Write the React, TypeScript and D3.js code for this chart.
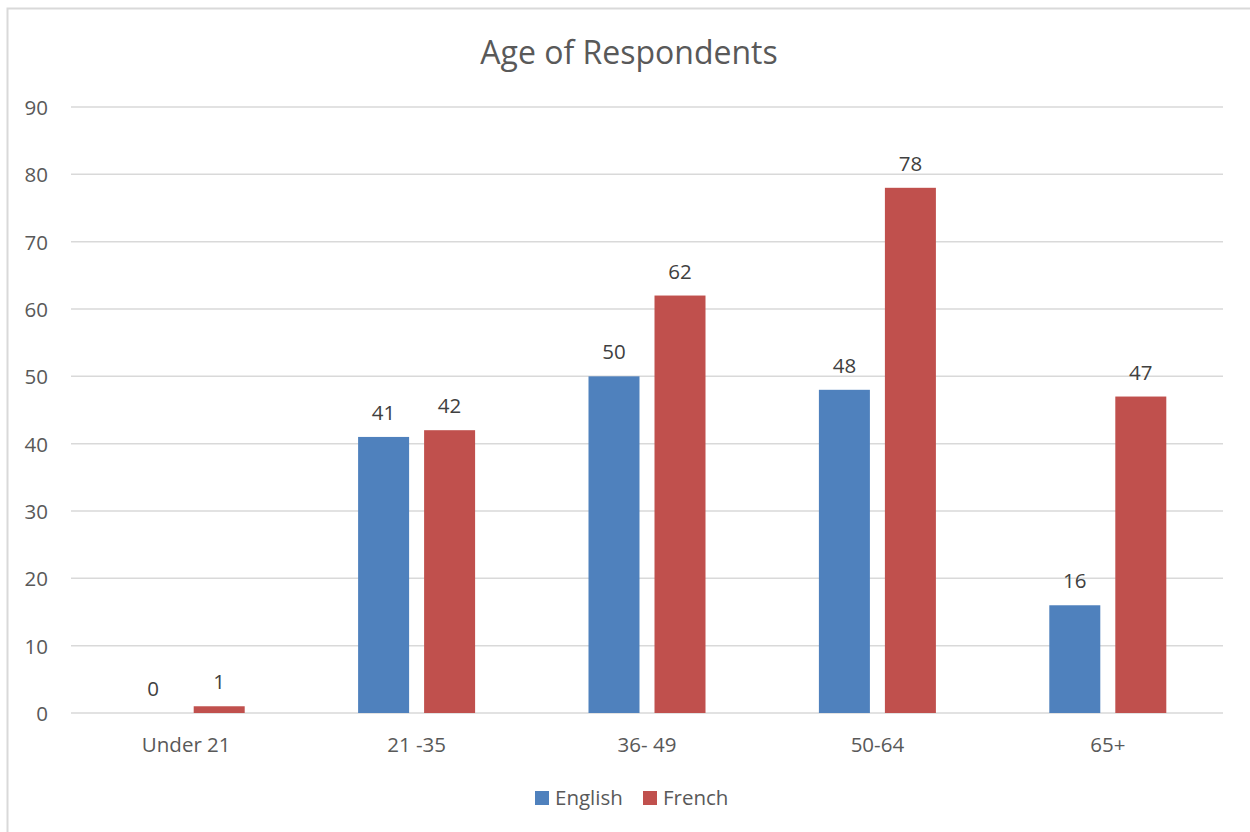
import React from "react";
import * as d3 from "d3";

const categories = ["Under 21", "21 -35", "36- 49", "50-64", "65+"];
const seriesNames = ["English", "French"];
const englishValues = [0, 41, 50, 48, 16];
const frenchValues = [1, 42, 62, 78, 47];
const yTicks = [0, 10, 20, 30, 40, 50, 60, 70, 80, 90];
const colors = ["#4F81BD", "#C0504D"];

export default function App() {
  const W = 1250, H = 832;
  const left = 71, right = 1223, top = 107, bottom = 713;
  const x0 = d3.scaleBand<string>().domain(categories).range([left, right]).padding(0);
  const bw = x0.bandwidth();
  const groupW = 117;
  const x1 = d3.scaleBand<string>().domain(seriesNames)
    .range([(bw - groupW) / 2, (bw + groupW) / 2]).paddingInner(15 / 66).paddingOuter(0);
  const y = d3.scaleLinear().domain([0, 90]).range([bottom, top]);
  const data = [englishValues, frenchValues];
  const font = "'Open Sans', 'Liberation Sans', sans-serif";
  const txt = "#595959";

  return (
    <svg width={W} height={H} style={{ position: "absolute", left: 0, top: 0, fontFamily: font }}>
      <rect x={0} y={0} width={W} height={H} fill="#fff" />
      <rect x={7.5} y={8.5} width={1300} height={900} fill="none" stroke="#d9d9d9" strokeWidth={2} />
      <text x={629} y={64} textAnchor="middle" fontSize={32} fill={txt}>Age of Respondents</text>
      {yTicks.map((t) => (
        <g key={t}>
          <line x1={left} x2={right} y1={y(t)} y2={y(t)} stroke="#d9d9d9" strokeWidth={1.5} />
          <text x={48} y={y(t) + 8} textAnchor="end" fontSize={20.5} fill={txt}>{t}</text>
        </g>
      ))}
      {categories.map((c, i) => (
        <g key={c} transform={`translate(${x0(c)},0)`}>
          {seriesNames.map((s, j) => {
            const v = data[j][i];
            const bx = x1(s)!;
            return (
              <g key={s}>
                <rect x={bx} y={y(v)} width={x1.bandwidth()} height={bottom - y(v)} fill={colors[j]} />
                <text x={bx + x1.bandwidth() / 2} y={y(v) - 17} textAnchor="middle" fontSize={20.5} fill="#404040">{v}</text>
              </g>
            );
          })}
          <text x={bw / 2} y={752} textAnchor="middle" fontSize={20.5} fill={txt}>{c}</text>
        </g>
      ))}
      {seriesNames.map((s, j) => {
        const lx = j === 0 ? 535 : 643;
        return (
          <g key={s}>
            <rect x={lx} y={791} width={14} height={14} fill={colors[j]} />
            <text x={lx + 20} y={805} fontSize={20.5} fill={txt}>{s}</text>
          </g>
        );
      })}
    </svg>
  );
}
